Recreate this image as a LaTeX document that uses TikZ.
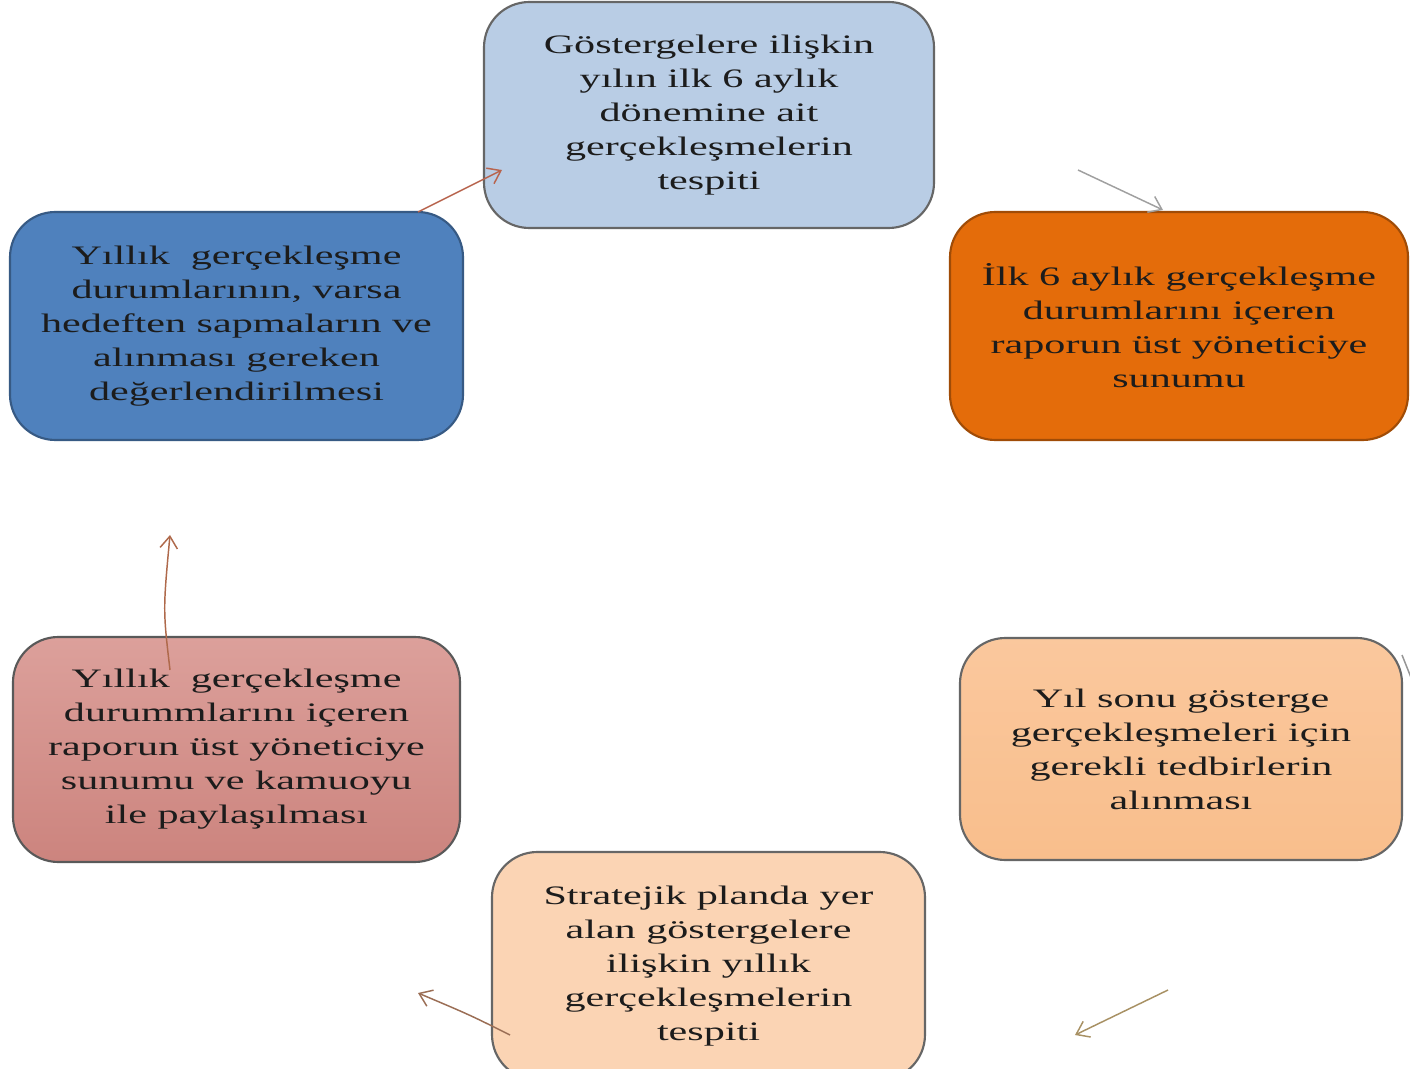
\documentclass[tikz,border=0pt]{standalone}
\usepackage{fontspec}
\setmainfont{Liberation Serif}[FakeStretch=1.58]
\usetikzlibrary{arrows.meta}
\definecolor{txt}{HTML}{1C1C1C}
\definecolor{cBlueL}{HTML}{B9CDE5}
\definecolor{cOrange}{HTML}{E46C0A}
\definecolor{cOrangeL}{HTML}{F9BE8C}
\definecolor{cPeach}{HTML}{FBD4B4}
\definecolor{cRoseT}{HTML}{DCA09B}
\definecolor{cRoseB}{HTML}{CC847E}
\definecolor{cBlue}{HTML}{4F81BD}
\definecolor{aRed}{HTML}{B8644E}
\definecolor{aGray}{HTML}{A0A0A0}
\definecolor{aGray2}{HTML}{969696}
\definecolor{aTan}{HTML}{A89164}
\definecolor{aBrown}{HTML}{9B6E55}
\definecolor{aOr}{HTML}{AF694B}
\begin{document}
\begin{tikzpicture}[x=0.75pt,y=-0.75pt,
  box/.style={draw=#1, line width=1.6pt, rounded corners=34pt, align=center,
    text=txt, font=\fontsize{20}{25.5}\selectfont, inner sep=0pt},
  arr/.style={draw=#1, line width=1.1pt, -{Straight Barb[length=9pt,width=13pt,line width=1.1pt]}}]
\useasboundingbox (0,0) rectangle (1410,1069);
\fill[white] (0,0) rectangle (1410,1069);
\node[box=gray!80!black, fill=cBlueL, minimum width=450*0.75pt, minimum height=226*0.75pt] (b1) at (709,115)
  {Göstergelere ilişkin\\yılın ilk 6 aylık\\dönemine ait\\gerçekleşmelerin\\tespiti};
\node[box=cOrange!70!black, fill=cOrange, minimum width=458*0.75pt, minimum height=228*0.75pt] (b2) at (1179,326)
  {İlk 6 aylık gerçekleşme\\durumlarını içeren\\raporun üst yöneticiye\\sunumu};
\node[box=gray!80!black, top color=cOrangeL!85!white, bottom color=cOrangeL, minimum width=442*0.75pt, minimum height=222*0.75pt] (b3) at (1181,749)
  {Yıl sonu gösterge\\gerçekleşmeleri için\\gerekli tedbirlerin\\alınması};
\node[box=gray!80!black, fill=cPeach, minimum width=433*0.75pt, minimum height=228*0.75pt] (b4) at (708.5,966)
  {Stratejik planda yer\\alan göstergelere\\ilişkin yıllık\\gerçekleşmelerin\\tespiti};
\node[box=gray!70!black, top color=cRoseT, bottom color=cRoseB, minimum width=447*0.75pt, minimum height=225*0.75pt] (b5) at (236.5,749.5)
  {Yıllık\ \ gerçekleşme\\durummlarını içeren\\raporun üst yöneticiye\\sunumu ve kamuoyu\\ile paylaşılması};
\node[box=cBlue!70!black, fill=cBlue, minimum width=453*0.75pt, minimum height=228*0.75pt] (b6) at (236.5,326)
  {Yıllık\ \ gerçekleşme\\durumlarının, varsa\\hedeften sapmaların ve\\alınması gereken\\değerlendirilmesi};
% connector end points
\coordinate (a1s) at (418,212);
\coordinate (a1e) at (502,170);
\coordinate (a2s) at (1078,170);
\coordinate (a2e) at (1163,210);
\coordinate (a3s) at (1402,655);
\coordinate (a3e) at (1412,680);
\coordinate (a4s) at (1168,990);
\coordinate (a4e) at (1075,1035);
\coordinate (a5s) at (510,1035);
\coordinate (a5e) at (418,993);
\coordinate (a6s) at (170,670);
\coordinate (a6e) at (170,535);
\draw[arr=aRed] (a1s) -- (a1e);
\draw[arr=aGray] (a2s) -- (a2e);
\draw[line width=1.1pt, draw=aGray2] (a3s) -- (a3e);
\draw[arr=aTan] (a4s) -- (a4e);
\draw[arr=aBrown] (a5s) .. controls (470,1015) .. (a5e);
\draw[arr=aOr] (a6s) .. controls (163,610) .. (a6e);
\end{tikzpicture}
\end{document}
